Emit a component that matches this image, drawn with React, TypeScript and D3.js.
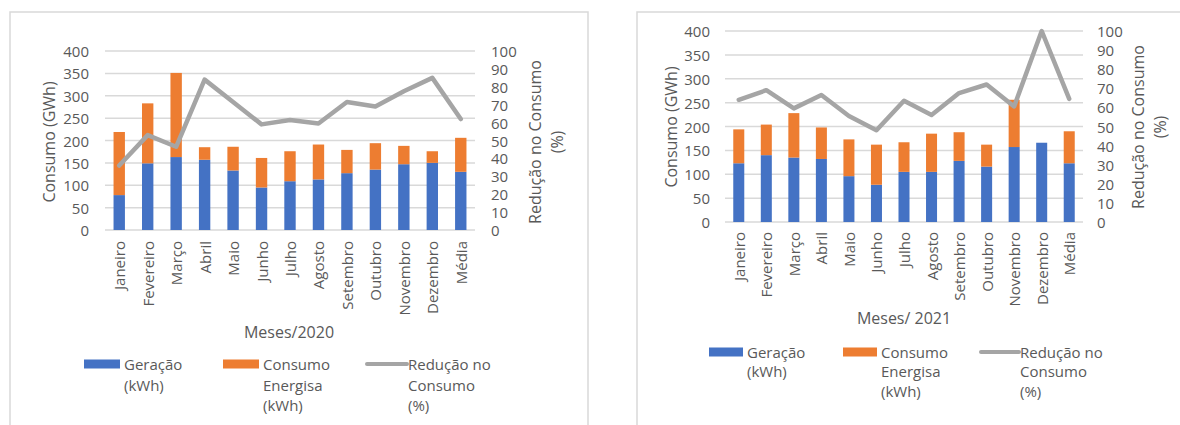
import React from 'react';
import * as d3 from 'd3';

// Months on the category axis (last entry is the yearly average)
const months = ['Janeiro', 'Fevereiro', 'Março', 'Abril', 'Maio', 'Junho', 'Julho', 'Agosto', 'Setembro', 'Outubro', 'Novembro', 'Dezembro', 'Média'];

// 2020
const geracao2020 = [78, 149, 163, 157, 133, 95, 109, 113, 127, 135, 147, 150, 130];
const energisa2020 = [141, 134, 188, 28, 53, 66, 67, 78, 52, 59, 41, 26, 76];
const reducao2020 = [36, 53, 46.5, 84, 71.5, 59, 61.5, 59.5, 71.5, 69, 77.5, 85, 62];

// 2021
const geracao2021 = [123, 140, 135, 132, 96, 78, 105, 105, 128, 116, 157, 166, 123];
const energisa2021 = [71, 64, 93, 66, 77, 84, 62, 80, 60, 46, 99, 0, 67];
const reducao2021 = [64, 69, 59.5, 66.5, 55.5, 48, 63.5, 56, 67.5, 72, 60.5, 100, 64.5];

const leftTicks = [0, 50, 100, 150, 200, 250, 300, 350, 400];
const rightTicks = [0, 10, 20, 30, 40, 50, 60, 70, 80, 90, 100];

const BLUE = '#4472C4';
const ORANGE = '#ED7D31';
const GRAY = '#A5A5A5';
const GRID = '#D9D9D9';
const TEXT = '#595959';
const FONT = "'Open Sans', 'Liberation Sans', sans-serif";
const SMALL = 15;
const TITLE = 16;

type Layout = {
  box: [number, number, number, number];
  left: number; right: number; y0: number; yTop: number;
  tickX: number; rightTickX: number;
  leftTitleX: number; titleCY: number; rightTitleX: [number, number];
  xLabelTop: number; xTitle: [number, number];
  legendRows: [number, number, number];
  blueX: number; orangeX: number; lineX: number; swatchW: number;
};

function Panel({ title, geracao, energisa, reducao, L }: {
  title: string; geracao: number[]; energisa: number[]; reducao: number[]; L: Layout;
}) {
  const x = d3.scaleBand<string>().domain(months).range([L.left, L.right]).paddingInner(0.6).paddingOuter(0.3);
  const y = d3.scaleLinear().domain([0, 400]).range([L.y0, L.yTop]);
  const y2 = d3.scaleLinear().domain([0, 100]).range([L.y0, L.yTop]);
  const bw = x.bandwidth();
  const line = d3.line<number>()
    .x((_, i) => (x(months[i]) as number) + bw / 2)
    .y((d) => y2(d));

  const [r1, r2, r3] = L.legendRows;
  const textStyle = { fontFamily: FONT, fill: TEXT };

  return (
    <g>
      <rect x={L.box[0]} y={L.box[1]} width={L.box[2]} height={L.box[3]} fill="#fff" stroke={GRID} strokeWidth={1.5} />
      {leftTicks.map((t) => (
        <g key={t}>
          <line x1={L.left} x2={L.right} y1={y(t)} y2={y(t)} stroke={GRID} strokeWidth={1.5} />
          <text x={L.tickX} y={y(t)} textAnchor="end" dominantBaseline="central" fontSize={SMALL} style={textStyle}>{t}</text>
        </g>
      ))}
      {rightTicks.map((t) => (
        <text key={t} x={L.rightTickX} y={y2(t)} textAnchor="start" dominantBaseline="central" fontSize={SMALL} style={textStyle}>{t}</text>
      ))}
      {months.map((m, i) => (
        <g key={m}>
          <rect x={x(m)} y={y(geracao[i])} width={bw} height={y(0) - y(geracao[i])} fill={BLUE} />
          {energisa[i] > 0 && (
            <rect x={x(m)} y={y(geracao[i] + energisa[i])} width={bw} height={y(geracao[i]) - y(geracao[i] + energisa[i])} fill={ORANGE} />
          )}
          <text
            transform={`translate(${(x(m) as number) + bw / 2},${L.xLabelTop}) rotate(-90)`}
            textAnchor="end" dominantBaseline="central" fontSize={SMALL} style={textStyle}
          >{m}</text>
        </g>
      ))}
      <path d={line(reducao) || ''} fill="none" stroke={GRAY} strokeWidth={4.5} strokeLinejoin="round" strokeLinecap="round" />

      <text transform={`translate(${L.leftTitleX},${L.titleCY}) rotate(-90)`} textAnchor="middle" dominantBaseline="central" fontSize={TITLE} style={textStyle}>Consumo (GWh)</text>
      <text transform={`translate(${L.rightTitleX[0]},${L.titleCY}) rotate(-90)`} textAnchor="middle" dominantBaseline="central" fontSize={TITLE} style={textStyle}>Redução no Consumo</text>
      <text transform={`translate(${L.rightTitleX[1]},${L.titleCY}) rotate(-90)`} textAnchor="middle" dominantBaseline="central" fontSize={TITLE} style={textStyle}>(%)</text>
      <text x={L.xTitle[0]} y={L.xTitle[1]} textAnchor="middle" dominantBaseline="central" fontSize={TITLE} style={textStyle}>{title}</text>

      {/* legend */}
      <rect x={L.blueX} y={r1 - 4.5} width={L.swatchW} height={9} fill={BLUE} />
      <text x={L.blueX + L.swatchW + 4} y={r1} dominantBaseline="central" fontSize={SMALL} style={textStyle}>Geração</text>
      <text x={L.blueX + L.swatchW + 4} y={r2} dominantBaseline="central" fontSize={SMALL} style={textStyle}>(kWh)</text>

      <rect x={L.orangeX} y={r1 - 4.5} width={L.swatchW} height={9} fill={ORANGE} />
      <text x={L.orangeX + L.swatchW + 4} y={r1} dominantBaseline="central" fontSize={SMALL} style={textStyle}>Consumo</text>
      <text x={L.orangeX + L.swatchW + 4} y={r2} dominantBaseline="central" fontSize={SMALL} style={textStyle}>Energisa</text>
      <text x={L.orangeX + L.swatchW + 4} y={r3} dominantBaseline="central" fontSize={SMALL} style={textStyle}>(kWh)</text>

      <line x1={L.lineX} x2={L.lineX + L.swatchW + 4} y1={r1} y2={r1} stroke={GRAY} strokeWidth={4} strokeLinecap="round" />
      <text x={L.lineX + L.swatchW + 5} y={r1} dominantBaseline="central" fontSize={SMALL} style={textStyle}>Redução no</text>
      <text x={L.lineX + L.swatchW + 5} y={r2} dominantBaseline="central" fontSize={SMALL} style={textStyle}>Consumo</text>
      <text x={L.lineX + L.swatchW + 5} y={r3} dominantBaseline="central" fontSize={SMALL} style={textStyle}>(%)</text>
    </g>
  );
}

const layout2020: Layout = {
  box: [10, 12, 578, 440],
  left: 105, right: 475, y0: 230, yTop: 51,
  tickX: 89, rightTickX: 491,
  leftTitleX: 49, titleCY: 142, rightTitleX: [535, 557],
  xLabelTop: 241, xTitle: [289, 332],
  legendRows: [364, 385, 405],
  blueX: 84, orangeX: 223, lineX: 367, swatchW: 36,
};

const layout2021: Layout = {
  box: [637, 12, 600, 440],
  left: 725, right: 1083, y0: 222, yTop: 31,
  tickX: 710, rightTickX: 1097,
  leftTitleX: 671, titleCY: 127, rightTitleX: [1138, 1160],
  xLabelTop: 232, xTitle: [904, 318],
  legendRows: [352, 371, 391],
  blueX: 709, orangeX: 843, lineX: 981, swatchW: 34,
};

export default function App() {
  return (
    <svg width={1180} height={425} style={{ position: 'absolute', left: 0, top: 0, background: '#fff' }}>
      <Panel title="Meses/2020" geracao={geracao2020} energisa={energisa2020} reducao={reducao2020} L={layout2020} />
      <Panel title="Meses/ 2021" geracao={geracao2021} energisa={energisa2021} reducao={reducao2021} L={layout2021} />
    </svg>
  );
}
